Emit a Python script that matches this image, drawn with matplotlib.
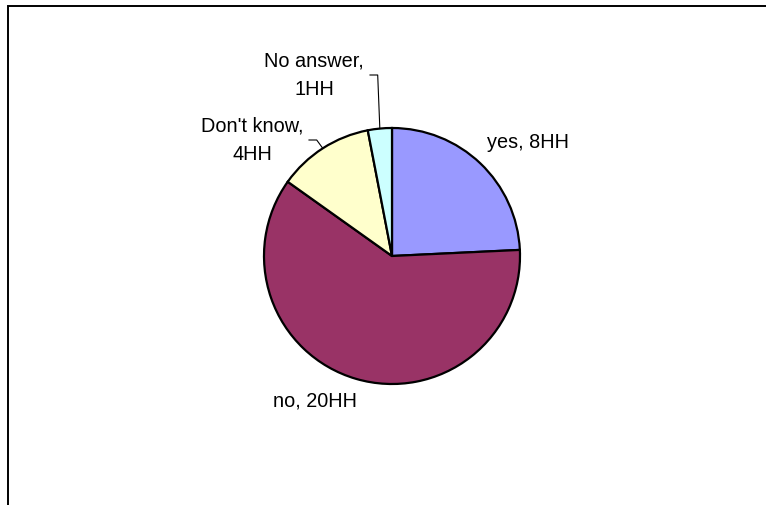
import matplotlib.pyplot as plt
import numpy as np
from matplotlib.patches import Rectangle

plt.rcParams['font.family'] = ['Liberation Sans', 'DejaVu Sans']

# data
categories = ["yes", "no", "Don't know", "No answer"]
counts = [8, 20, 4, 1]
colors = ["#9999FF", "#993366", "#FFFFCC", "#CCFFFF"]
label_texts = ["yes, 8HH", "no, 20HH", "Don't know,\n4HH", "No answer,\n1HH"]

W, H = 766, 505
fig = plt.figure(figsize=(W / 100, H / 100), dpi=100)
ax = fig.add_axes([0, 0, 1, 1])

# outer frame (only top and left visible in the crop)
fig.patches.append(Rectangle((7.5, -10), W + 20, H - 5.5 + 10, transform=None,
                             fill=False, edgecolor='black', lw=1.4))

cx, cy, r = 392, 256, 128
# y axis is inverted, so counterclock=True runs clockwise on screen
wedges, _ = ax.pie(counts, colors=colors, startangle=-90, counterclock=True,
                   center=(cx, cy), radius=r, frame=True,
                   wedgeprops=dict(edgecolor='black', linewidth=1.6))
ax.set_xlim(0, W)
ax.set_ylim(H, 0)
ax.set_aspect('equal')
ax.axis('off')

# label positions (pixel coords of text centre)
label_pos = [(528, 142), (315, 401), (252, 140), (314, 75)]
for txt, (x, y) in zip(label_texts, label_pos):
    ax.text(x, y, txt, ha='center', va='center', fontsize=14.3,
            linespacing=1.65, color='black')

# leader lines for the two small slices
total = sum(counts)
cum = np.cumsum([0] + counts)
mid_deg = [90 - (cum[i] + counts[i] / 2) / total * 360 for i in range(len(counts))]
leaders = {2: [(316.7, 140), (309, 140)], 3: [(377.7, 75), (370, 75)]}
for i, pts in leaders.items():
    a = np.deg2rad(mid_deg[i])
    ex, ey = cx + r * np.cos(a), cy - r * np.sin(a)
    xs = [ex] + [p[0] for p in pts]
    ys = [ey] + [p[1] for p in pts]
    ax.plot(xs, ys, color='black', lw=0.8)

fig.savefig('out.png', dpi=100)
